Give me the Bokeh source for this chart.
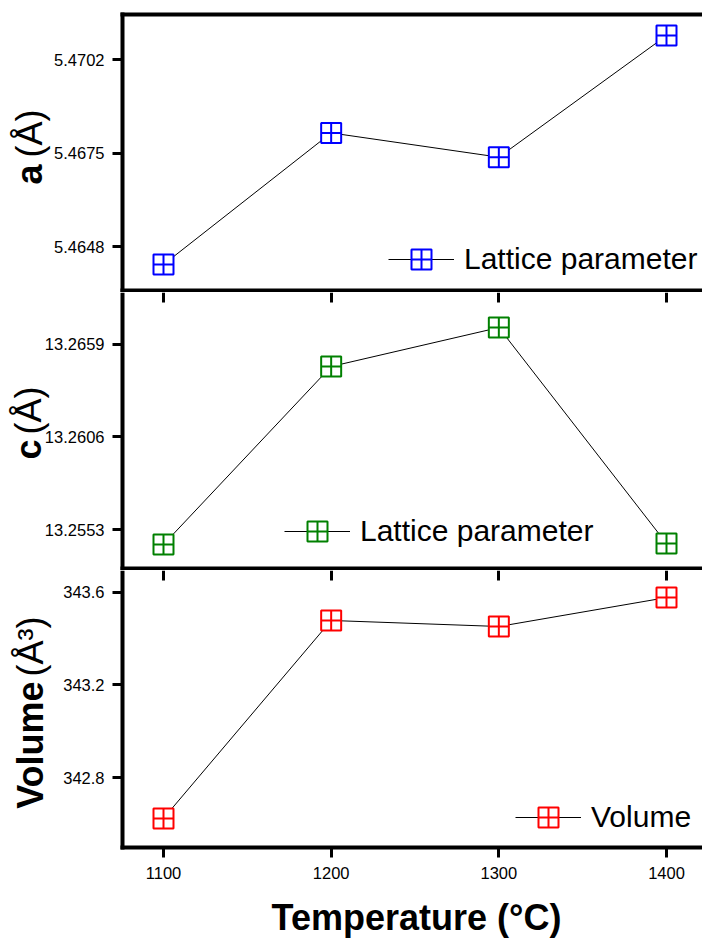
from bokeh.plotting import figure
from bokeh.models import (Range1d, FixedTicker, LinearAxis, Legend, LegendItem, Label,
                          ColumnDataSource, PrintfTickFormatter, CustomJSTickFormatter)
from bokeh.layouts import column
from bokeh.embed import file_html
from bokeh.resources import INLINE

# ---- data ----
temperature = [1100, 1200, 1300, 1400]
lattice_a = [5.46428, 5.46808, 5.46738, 5.47089]
lattice_c = [13.25444, 13.26464, 13.26687, 13.25450]
volume = [342.623, 343.479, 343.453, 343.578]

x_ticks = [1100, 1200, 1300, 1400]
a_ticks = [5.4648, 5.4675, 5.4702]
c_ticks = [13.2553, 13.2606, 13.2659]
v_ticks = [342.8, 343.2, 343.6]

legend_a = "Lattice parameter"
legend_c = "Lattice parameter"
legend_v = "Volume"
x_title = "Temperature (°C)"

FONT = "Liberation Sans"
X_RANGE = (1002.785, 1421.47)   # whole canvas width
Y_AXIS_AT = 1075.547            # left spine position (temperature units)
X_BOUNDS = (1074.35, 1421.47)   # horizontal spines extent


def style_ticks(ax, out, inn):
    ax.major_tick_line_width = 3
    ax.major_tick_out = out
    ax.major_tick_in = inn
    ax.minor_tick_line_color = None
    ax.axis_line_width = 4
    ax.axis_line_color = "black"


def blank_labels(ax):
    ax.formatter = CustomJSTickFormatter(code="return ''")
    ax.major_label_text_font_size = "0px"
    ax.major_label_standoff = 0


def make_panel(yvals, color, canvas_h, yr, yticks, yfmt, y_bounds, top_at, top_mode,
               bottom_at, bottom_axis, legend_label, legend_loc, titles):
    p = figure(frame_width=702, frame_height=canvas_h, output_backend="svg",
               toolbar_location=None, x_range=Range1d(*X_RANGE), y_range=Range1d(*yr),
               min_border=0, outline_line_color=None, background_fill_color="white",
               border_fill_color="white")
    p.grid.visible = False
    src = ColumnDataSource(dict(x=temperature, y=yvals))
    lr = p.line("x", "y", source=src, line_color="black", line_width=1)
    sr = p.scatter("x", "y", source=src, marker="square_cross", size=20,
                   line_color=color, line_width=2, fill_color="white")

    # left spine with ticks
    ya = p.yaxis[0]
    ya.fixed_location = Y_AXIS_AT
    ya.bounds = y_bounds
    ya.ticker = FixedTicker(ticks=yticks)
    ya.formatter = PrintfTickFormatter(format=yfmt)
    style_ticks(ya, 10, 0)
    ya.major_label_text_font = FONT
    ya.major_label_text_font_size = "16.5px"
    ya.major_label_text_color = "black"
    ya.major_label_standoff = 8

    # bottom spine
    xa = p.xaxis[0]
    xa.fixed_location = bottom_at
    xa.bounds = X_BOUNDS
    if bottom_axis:
        xa.ticker = FixedTicker(ticks=x_ticks)
        xa.formatter = PrintfTickFormatter(format="%d")
        style_ticks(xa, 10, 0)
        xa.major_label_text_font = FONT
        xa.major_label_text_font_size = "16.5px"
        xa.major_label_text_color = "black"
        xa.major_label_standoff = 9
    else:
        xa.ticker = FixedTicker(ticks=[])
        style_ticks(xa, 0, 0)
        blank_labels(xa)

    # top spine / ticks
    ta = LinearAxis(fixed_location=top_at, bounds=X_BOUNDS,
                    ticker=FixedTicker(ticks=[] if top_mode == "line" else x_ticks))
    style_ticks(ta, 0, 0 if top_mode == "line" else 10)
    blank_labels(ta)
    if top_mode != "line":
        ta.axis_line_color = None
    p.add_layout(ta, "above")

    # legend
    leg = Legend(items=[LegendItem(label=legend_label, renderers=[lr, sr])],
                 location=legend_loc, glyph_width=66, glyph_height=50,
                 label_standoff=10, padding=0, margin=0, spacing=0,
                 label_text_font=FONT, label_text_font_size="30px",
                 label_text_color="black", border_line_color=None,
                 background_fill_alpha=0)
    p.add_layout(leg, "center")

    # rotated titles and other texts
    for txt, x, y, angle, align, baseline, style in titles:
        p.add_layout(Label(x=x, y=y, x_units="screen", y_units="screen", text=txt,
                           angle=angle, angle_units="deg", text_align=align,
                           text_baseline=baseline, text_font=FONT,
                           text_font_style=style, text_font_size="36px",
                           text_color="black"))
    return p


p1 = make_panel(lattice_a, "#0000ff", 292, (5.463472, 5.471904), a_ticks, "%.4f",
                (5.463472, 5.471557), 5.471499, "line", 5.463529, False,
                legend_a, (388, 8),
                [("a", 29, 128, 90, "right", "alphabetic", "bold"),
                 ("(Å)", 29, 135, 90, "left", "alphabetic", "normal")])
p2 = make_panel(lattice_c, "#008000", 278, (13.252951, 13.268879), c_ticks, "%.4f",
                (13.252951, 13.268879), 13.268879, "ticks", 13.253066, False,
                legend_c, (284, 14),
                [("c", 28, 131, 90, "right", "alphabetic", "bold"),
                 ("(Å)", 28, 136, 90, "left", "alphabetic", "normal")])
p3 = make_panel(volume, "#ff0000", 371, (342.09082, 343.69513), v_ticks, "%.1f",
                (342.4887, 343.69513), 343.69513, "ticks", 342.4973, True,
                legend_v, (515, 99),
                [("Volume", 30, 260, 90, "right", "alphabetic", "bold"),
                 ("(Å³)", 30, 265, 90, "left", "alphabetic", "normal"),
                 (x_title, 416, 24, 0, "center", "middle", "bold")])

layout = column(p1, p2, p3, spacing=0)
open("out.html", "w").write(file_html(layout, INLINE))
